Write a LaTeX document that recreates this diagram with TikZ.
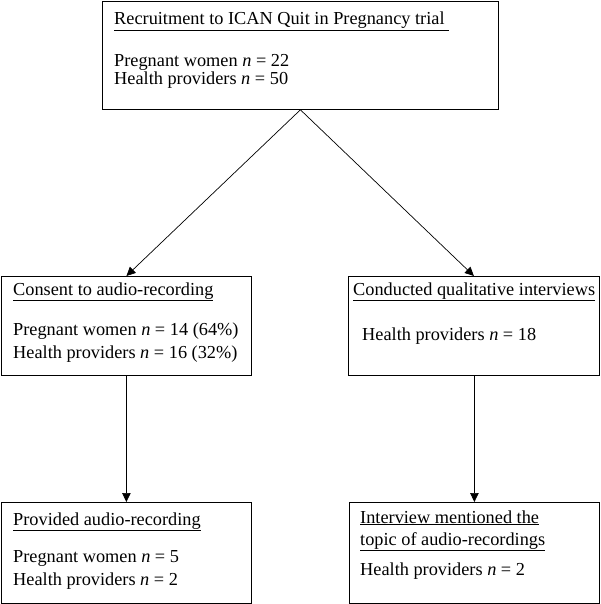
\documentclass[tikz,border=0pt]{standalone}
\usepackage{fontspec}
\setmainfont{Liberation Serif}
\usetikzlibrary{arrows.meta}
\begin{document}
\begin{tikzpicture}[x=1pt,y=-1pt]
\useasboundingbox (0,0) rectangle (600,604);
\tikzset{
  box/.style={draw, line width=0.8pt, inner sep=0pt, rectangle, anchor=north west},
  txt/.style={anchor=base west, inner sep=0pt, font=\fontsize{18.3}{20}\selectfont},
  arr/.style={-{Triangle[length=9pt,width=8.5pt]}, line width=0.7pt}
}
% boxes
\node[box, minimum width=396pt, minimum height=108pt] (top) at (102,1) {};
\node[box, minimum width=250pt, minimum height=99pt] (consent) at (1,276) {};
\node[box, minimum width=251pt, minimum height=99pt] (conducted) at (348,276) {};
\node[box, minimum width=250pt, minimum height=101pt] (provided) at (1,502) {};
\node[box, minimum width=250pt, minimum height=101pt] (interview) at (349,502) {};
% texts
\node[txt] (t1) at (114,25) {\underline{Recruitment to ICAN Quit in Pregnancy trial\ }};
\node[txt] (t2) at (114,67) {Pregnant women \textit{n} = 22};
\node[txt] (t3) at (114,85) {Health providers \textit{n} = 50};
\node[txt] (c1) at (13,295) {\underline{Consent to audio-recording}};
\node[txt] (c2) at (13,335) {Pregnant women \textit{n} = 14 (64\%)};
\node[txt] (c3) at (13,358) {Health providers \textit{n} = 16 (32\%)};
\node[txt] (q1) at (353,295) {\underline{Conducted qualitative interviews}};
\node[txt] (q2) at (362,340) {Health providers \textit{n} = 18};
\node[txt] (p1) at (13,525) {\underline{Provided audio-recording}};
\node[txt] (p2) at (13,562) {Pregnant women \textit{n} = 5};
\node[txt] (p3) at (13,585) {Health providers \textit{n} = 2};
\node[txt] (i1) at (360,523) {\underline{Interview mentioned the}};
\node[txt] (i2) at (360,545) {\underline{topic of audio-recordings}};
\node[txt] (i3) at (360,575) {Health providers \textit{n} = 2};
% arrows
\draw[arr] (top.south) -- (consent.north);
\draw[arr] (top.south) -- (conducted.north);
\draw[arr] (consent.south) -- (provided.north);
\draw[arr] (interview.north |- conducted.south) -- (interview.north);
\end{tikzpicture}
\end{document}
